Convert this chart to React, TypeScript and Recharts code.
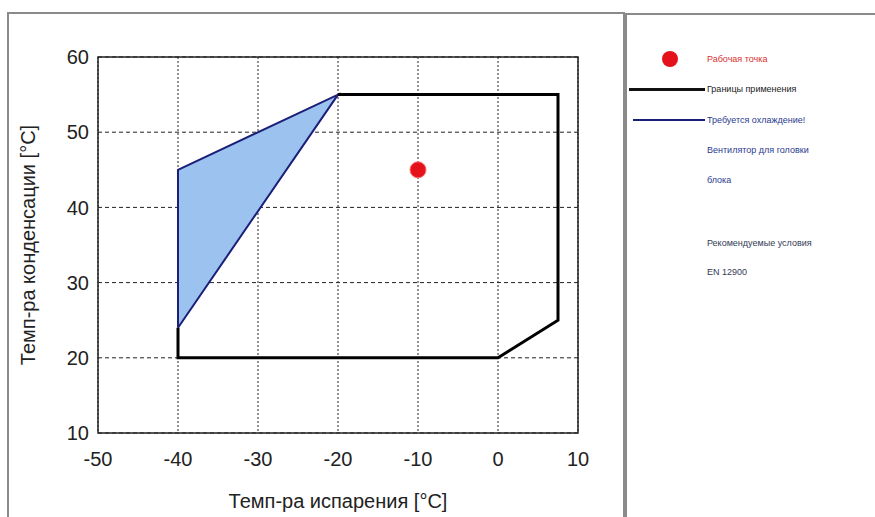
import {
  ComposedChart,
  XAxis,
  YAxis,
  CartesianGrid,
  Scatter,
  Area,
  ReferenceArea,
  Label,
} from 'recharts';

const X_TICKS = [-50, -40, -30, -20, -10, 0, 10];
const Y_TICKS = [10, 20, 30, 40, 50, 60];

// application limits (black outline), in drawing order
const LIMITS = [
  { x: -40, y: 24 },
  { x: -40, y: 20 },
  { x: 0, y: 20 },
  { x: 7.5, y: 25 },
  { x: 7.5, y: 55 },
  { x: -20, y: 55 },
];

// cooling required zone (triangle)
const COOLING = [
  { x: -40, y: 24 },
  { x: -20, y: 55 },
  { x: -40, y: 45 },
  { x: -40, y: 24 },
];

// filled band of the cooling zone: [lower, upper] at each x
const COOLING_BAND = [
  { x: -40, band: [24, 45] },
  { x: -20, band: [55, 55] },
];

const OPERATING_POINT = [{ x: -10, y: 45 }];

const FONT = '"Liberation Sans", Arial, sans-serif';
const NAVY = '#1b1f78';

const noDot = () => <g />;

function RedDot(props: { cx?: number; cy?: number }) {
  return <circle cx={props.cx} cy={props.cy} r={8} fill="#e3121b" stroke="#ff6b6b" strokeWidth={1} />;
}

function LegendPanel() {
  const txt = { position: 'absolute' as const, left: 80, fontSize: 9, fontFamily: FONT, lineHeight: '12px' };
  return (
    <div style={{ position: 'absolute', left: 625, top: 13, width: 260, height: 520, borderLeft: '2px solid #8a8a8a', borderTop: '2px solid #8a8a8a' }}>
      <div style={{ position: 'absolute', left: 35, top: 36, width: 16, height: 16, borderRadius: 8, background: '#e3121b' }} />
      <div style={{ ...txt, top: 38, color: '#d9302f' }}>Рабочая точка</div>
      <div style={{ position: 'absolute', left: 2, top: 73, width: 76, height: 3, background: '#111' }} />
      <div style={{ ...txt, top: 68, color: '#222' }}>Границы применения</div>
      <div style={{ position: 'absolute', left: 6, top: 104, width: 72, height: 2, background: NAVY }} />
      <div style={{ ...txt, top: 99, color: '#2b3a8f' }}>Требуется охлаждение!</div>
      <div style={{ ...txt, top: 129, color: '#2b3a8f' }}>Вентилятор для головки</div>
      <div style={{ ...txt, top: 159, color: '#2b3a8f' }}>блока</div>
      <div style={{ ...txt, top: 222, color: '#333a55' }}>Рекомендуемые условия</div>
      <div style={{ ...txt, top: 251, color: '#333a55' }}>EN 12900</div>
    </div>
  );
}

export default function App() {
  return (
    <div style={{ position: 'absolute', left: 0, top: 0, width: 875, height: 517, background: '#fff', overflow: 'hidden', fontFamily: FONT }}>
      <div style={{ position: 'absolute', left: 7, top: 12, width: 614, height: 520, border: '2px solid #8a8a8a' }} />
      <div style={{ position: 'absolute', left: 0, top: 0 }}>
        <ComposedChart width={620} height={517} margin={{ top: 57, right: 42, left: 38, bottom: 54 }}>
          <CartesianGrid horizontal={false} stroke="#222" strokeDasharray="2 2" />
          <CartesianGrid vertical={false} stroke="#222" strokeDasharray="4 3" />
          <XAxis
            type="number"
            dataKey="x"
            domain={[-50, 10]}
            ticks={X_TICKS}
            allowDataOverflow
            axisLine={false}
            tickLine={false}
            height={30}
            tickMargin={13}
            tick={{ fill: '#222', fontSize: 20, fontFamily: FONT }}
          >
            <Label value="Темп-ра испарения [°C]" position="center" dy={53} fill="#222" fontSize={20} fontFamily={FONT} />
          </XAxis>
          <YAxis
            type="number"
            dataKey="y"
            domain={[10, 60]}
            ticks={Y_TICKS}
            allowDataOverflow
            axisLine={false}
            tickLine={false}
            width={60}
            tickMargin={3}
            tick={{ fill: '#222', fontSize: 20, fontFamily: FONT }}
          >
            <Label value="Темп-ра конденсации [°C]" angle={-90} position="center" dx={-40} fill="#222" fontSize={20} fontFamily={FONT} />
          </YAxis>
          <Area
            data={COOLING_BAND}
            dataKey="band"
            type="linear"
            fill="#9cc2ef"
            fillOpacity={1}
            stroke="none"
            dot={false}
            activeDot={false}
            isAnimationActive={false}
          />
          <Scatter
            data={COOLING}
            line={{ stroke: NAVY, strokeWidth: 2 }}
            lineType="joint"
            shape={noDot}
            isAnimationActive={false}
          />
          <Scatter
            data={LIMITS}
            line={{ stroke: '#000', strokeWidth: 3 }}
            lineType="joint"
            shape={noDot}
            isAnimationActive={false}
          />
          <Scatter data={OPERATING_POINT} shape={<RedDot />} isAnimationActive={false} />
          <ReferenceArea x1={-50} x2={10} y1={10} y2={60} fill="none" stroke="#222" strokeWidth={1.5} />
        </ComposedChart>
      </div>
      <LegendPanel />
    </div>
  );
}
